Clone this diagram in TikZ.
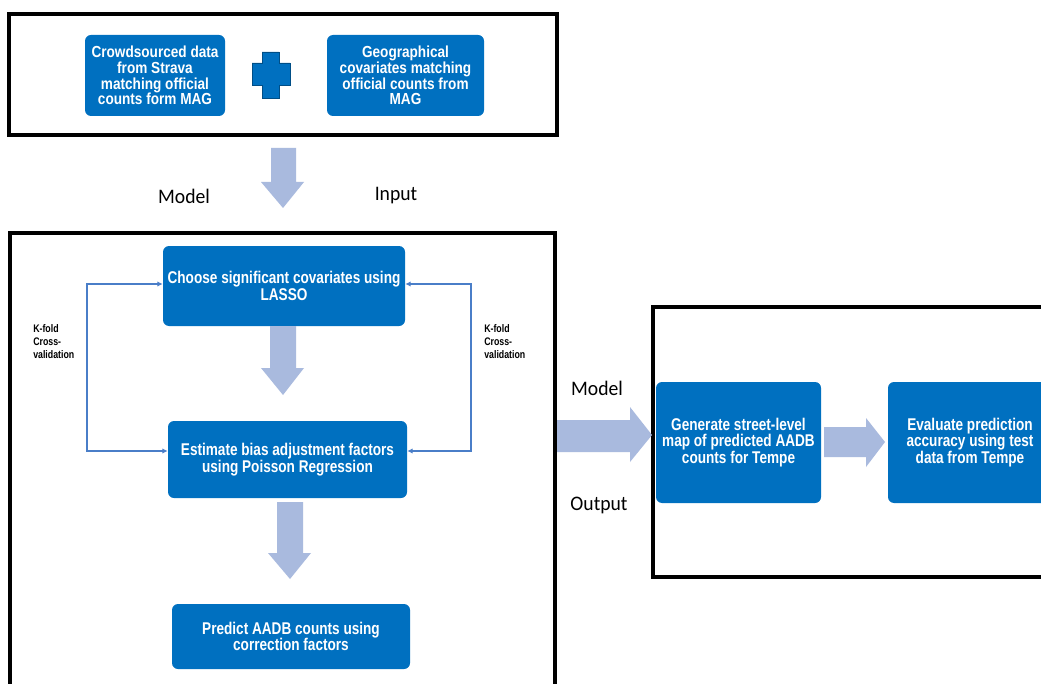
\documentclass[tikz,border=0pt]{standalone}
\usepackage{fontspec}
\setmainfont{Liberation Sans}
\newfontfamily\boxfont[FakeStretch=0.8]{Liberation Sans}
\newfontfamily\topfont[FakeStretch=0.85]{Liberation Sans}
\newfontfamily\labfont[FakeStretch=0.95]{Carlito}
\usetikzlibrary{arrows.meta}
\definecolor{boxblue}{HTML}{0070C0}
\definecolor{arrfill}{HTML}{A9BADE}
\definecolor{fbblue}{HTML}{4A7EC8}
\newcommand\upx{0.75pt}
\begin{document}
\begin{tikzpicture}[x=0.75pt,y=-0.75pt,
  frame/.style={draw=black,line width=2.4pt},
  bluebox/.style={fill=boxblue,rounded corners=4.5pt,text=white,align=center,inner sep=0pt,
    font=\boxfont\bfseries\fontsize{12.75pt}{12.6pt}\selectfont},
  topbox/.style={bluebox,font=\topfont\bfseries\fontsize{12pt}{11.8pt}\selectfont},
  blockarr/.style={fill=arrfill,draw=none},
  lab/.style={font=\labfont\fontsize{15.5pt}{18pt}\selectfont,inner sep=0pt},
  kfold/.style={font=\boxfont\bfseries\fontsize{8.25pt}{9.75pt}\selectfont,align=left,inner sep=0pt,anchor=north west},
  fb/.style={draw=fbblue,line width=0.8pt,{Latex[length=4pt,width=4pt]}-{Latex[length=4pt,width=4pt]}}
]
\useasboundingbox (0,0) rectangle (1041,684);
\clip (0,0) rectangle (1041,684);
\fill[white] (0,0) rectangle (1041,684);

% frames
\draw[frame] (9,14) rectangle (557,135);
\draw[frame] (10,233) rectangle (555,720);
\draw[frame] (653,307) rectangle (1080,577);

% top boxes
\node[topbox, minimum width=140*\upx, minimum height=81*\upx] (crowd) at (155,75.5)
  {Crowdsourced data\\from Strava\\matching official\\counts form MAG};
\node[topbox, minimum width=157*\upx, minimum height=81*\upx] (geo) at (405.5,75.5)
  {Geographical\\covariates matching\\official counts from\\MAG};
\filldraw[fill=boxblue, draw=boxblue!70!black, line width=0.5pt]
  (262,52) -- (279,52) -- (279,63) -- (290,63) -- (290,85) -- (279,85) -- (279,98)
  -- (262,98) -- (262,85) -- (252,85) -- (252,63) -- (262,63) -- cycle;

% top down arrow and labels
\fill[blockarr] (271,148) -- (296,148) -- (296,182) -- (304,182) -- (283,208) -- (261,182) -- (271,182) -- cycle;
\node[lab] (mdl1) at (184,196) {Model};
\node[lab] (inp) at (396,196) {Input};

% model boxes
\node[bluebox, minimum width=242*\upx, minimum height=80*\upx] (choose) at (284,286)
  {Choose significant covariates using\\LASSO};
\node[bluebox, minimum width=239*\upx, minimum height=77*\upx] (est) at (287.5,459.5)
  {Estimate bias adjustment factors\\using Poisson Regression};
\node[bluebox, minimum width=238*\upx, minimum height=65*\upx] (pred) at (291,636.5)
  {Predict AADB counts using\\correction factors};

\fill[blockarr] (270,326) -- (296,326) -- (296,368) -- (304,368) -- (283,395) -- (261,368) -- (270,368) -- cycle;
\fill[blockarr] (277,502) -- (303,502) -- (303,553) -- (311,553) -- (290,579) -- (268,553) -- (277,553) -- cycle;

% cross-validation loops
\coordinate (lt) at (87,284);
\coordinate (lb) at (87,451);
\coordinate (rt) at (471,284);
\coordinate (rb) at (471,451);
\draw[fb] (choose.west |- lt) -- (lt) -- (lb) -- (est.west |- lb);
\draw[fb] (choose.east |- rt) -- (rt) -- (rb) -- (est.east |- rb);
\node[kfold] (kl) at (33,324) {K-fold\\Cross-\\validation};
\node[kfold] (kr) at (484,324) {K-fold\\Cross-\\validation};

% output part
\fill[blockarr] (557,420) -- (630,420) -- (630,407) -- (652,435) -- (630,462) -- (630,452) -- (557,452) -- cycle;
\node[lab] (mdl2) at (597,388) {Model};
\node[lab] (outp) at (599,505) {Output};
\node[bluebox, minimum width=165*\upx, minimum height=121*\upx] (gen) at (738.5,442.5)
  {Generate street-level\\map of predicted AADB\\counts for Tempe};
\node[bluebox, minimum width=164*\upx, minimum height=121*\upx] (eval) at (970,442.5)
  {Evaluate prediction\\accuracy using test\\data from Tempe};
\fill[blockarr] (824,427) -- (866,427) -- (866,418) -- (885,442) -- (866,467) -- (866,457) -- (824,457) -- cycle;
\end{tikzpicture}
\end{document}
